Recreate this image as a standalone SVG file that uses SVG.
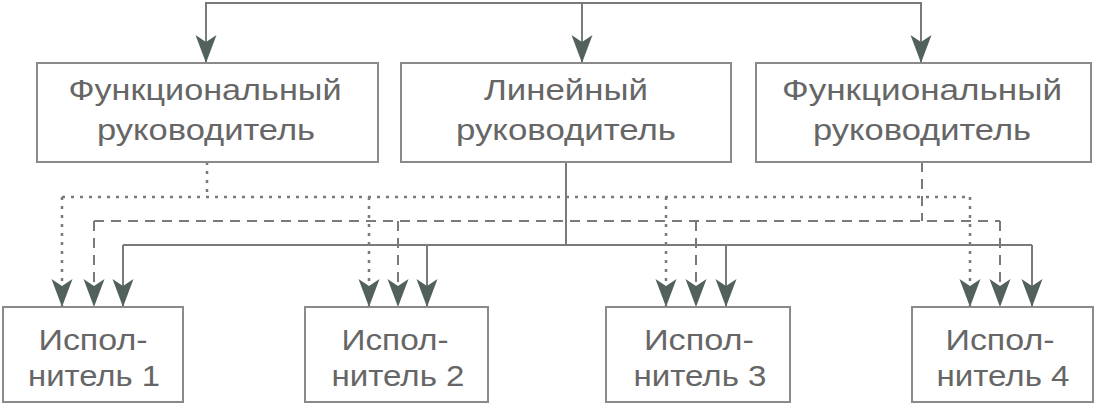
<svg xmlns="http://www.w3.org/2000/svg" width="1098" height="409" viewBox="0 0 1098 409">
<defs>
<marker id="ah" markerUnits="userSpaceOnUse" orient="auto" refX="0" refY="0" markerWidth="30" markerHeight="22" overflow="visible">
<path d="M0,0 L-28,-10.5 L-21,0 L-28,10.5 Z" fill="#52615c"/>
</marker>
<style>
.box{fill:#ffffff;stroke:#8a8a8a;stroke-width:2}
.t{font-family:"Liberation Sans","Arimo",Arial,sans-serif;fill:#666666;text-anchor:middle}
.top{font-size:29px}
.bot{font-size:30px}
.ln{fill:none;stroke:#7a7a7a;stroke-width:2}
.dot{stroke-dasharray:3 6;stroke-width:2.5}
.dash{stroke-dasharray:10 7}
.arr{marker-end:url(#ah)}
</style>
</defs>
<rect width="1098" height="409" fill="#ffffff"/>
<g id="connectors">
<path class="ln" d="M206,63 V3 H921 V63"/>
<path class="ln arr" d="M206,40 V63"/>
<path class="ln arr" d="M582,3 V63"/>
<path class="ln arr" d="M921,40 V63"/>
<path class="ln dot" d="M207,162 V197"/>
<path class="ln dot" d="M62,197 H970"/>
<path class="ln dot arr" d="M62,197 V307"/>
<path class="ln dot arr" d="M369,197 V307"/>
<path class="ln dot arr" d="M666,197 V307"/>
<path class="ln dot arr" d="M970,197 V307"/>
<path class="ln dash" d="M922,162 V221"/>
<path class="ln dash" d="M94,221 H1000"/>
<path class="ln dash arr" d="M94,221 V307"/>
<path class="ln dash arr" d="M398,221 V307"/>
<path class="ln dash arr" d="M696,221 V307"/>
<path class="ln dash arr" d="M1000,221 V307"/>
<path class="ln" d="M566,162 V245"/>
<path class="ln" d="M123,245 H1032"/>
<path class="ln arr" d="M123,245 V307"/>
<path class="ln arr" d="M427,245 V307"/>
<path class="ln arr" d="M726,245 V307"/>
<path class="ln arr" d="M1032,245 V307"/>
</g>
<g id="func1">
<rect class="box" x="37" y="63" width="341" height="99"/>
<text class="t top" x="205" y="100" textLength="273" lengthAdjust="spacingAndGlyphs">Функциональный</text>
<text class="t top" x="206" y="140" textLength="218" lengthAdjust="spacingAndGlyphs">руководитель</text>
</g>
<g id="linear">
<rect class="box" x="401" y="63" width="330" height="99"/>
<text class="t top" x="566" y="100" textLength="164" lengthAdjust="spacingAndGlyphs">Линейный</text>
<text class="t top" x="566" y="140" textLength="220" lengthAdjust="spacingAndGlyphs">руководитель</text>
</g>
<g id="func2">
<rect class="box" x="756" y="63" width="335" height="99"/>
<text class="t top" x="922" y="100" textLength="280" lengthAdjust="spacingAndGlyphs">Функциональный</text>
<text class="t top" x="922" y="140" textLength="218" lengthAdjust="spacingAndGlyphs">руководитель</text>
</g>
<g id="exec1">
<rect class="box" x="3" y="307" width="180" height="95"/>
<text class="t bot" x="93" y="350" textLength="109" lengthAdjust="spacingAndGlyphs">Испол-</text>
<text class="t bot" x="94" y="386" textLength="132" lengthAdjust="spacingAndGlyphs">нитель 1</text>
</g>
<g id="exec2">
<rect class="box" x="305" y="307" width="183" height="95"/>
<text class="t bot" x="395" y="350" textLength="107" lengthAdjust="spacingAndGlyphs">Испол-</text>
<text class="t bot" x="398" y="386" textLength="133" lengthAdjust="spacingAndGlyphs">нитель 2</text>
</g>
<g id="exec3">
<rect class="box" x="606" y="307" width="184" height="95"/>
<text class="t bot" x="699" y="350" textLength="110" lengthAdjust="spacingAndGlyphs">Испол-</text>
<text class="t bot" x="700" y="386" textLength="133" lengthAdjust="spacingAndGlyphs">нитель 3</text>
</g>
<g id="exec4">
<rect class="box" x="912" y="307" width="181" height="95"/>
<text class="t bot" x="1000" y="350" textLength="109" lengthAdjust="spacingAndGlyphs">Испол-</text>
<text class="t bot" x="1003" y="386" textLength="133" lengthAdjust="spacingAndGlyphs">нитель 4</text>
</g>
</svg>
